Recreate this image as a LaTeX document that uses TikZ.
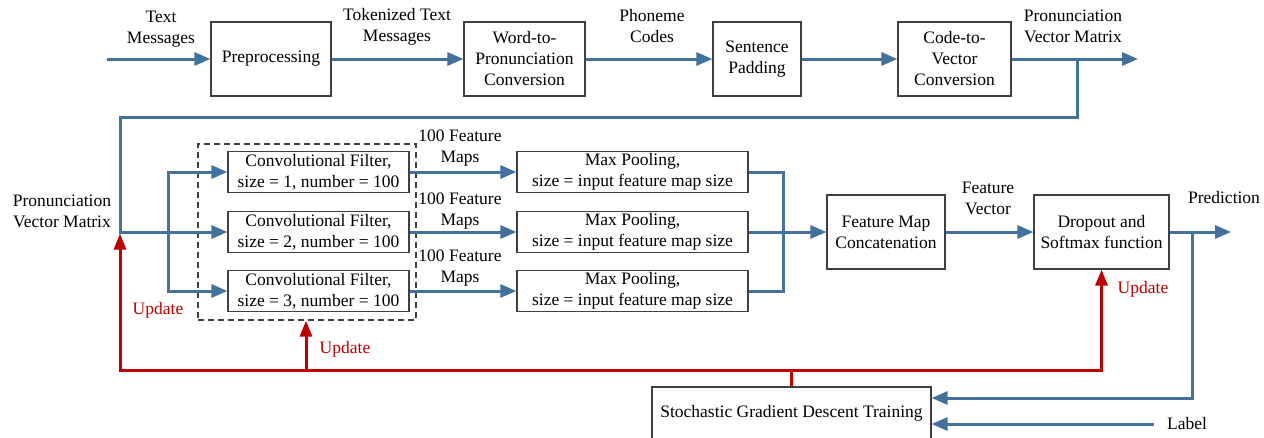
\documentclass[tikz,border=0pt]{standalone}
\usepackage{fontspec}
\setmainfont{Liberation Serif}
\usetikzlibrary{arrows.meta}
\definecolor{flowblue}{HTML}{41719C}
\definecolor{updred}{HTML}{C00000}
\definecolor{boxgrey}{HTML}{404040}
\begin{document}
\begin{tikzpicture}[x=1pt,y=-1pt,
  font=\fontsize{17.5}{21}\selectfont,
  box/.style={draw=boxgrey, line width=1.2pt, fill=white, align=center, inner sep=2pt},
  grpbox/.style={draw=boxgrey, line width=1.2pt, dash pattern=on 6pt off 4pt},
  flow/.style={draw=flowblue, line width=3pt, -{Triangle[length=16pt,width=13pt]}},
  flowline/.style={draw=flowblue, line width=3pt},
  upd/.style={draw=updred, line width=3pt, -{Triangle[length=16pt,width=12pt]}},
  lab/.style={align=center, inner sep=0pt},
  redlab/.style={text=updred, inner sep=0pt}]
\clip (0,0) rectangle (1264,437);

% top row: text to pronunciation vectors
\node[box, minimum width=120pt, minimum height=74pt] (pre) at (271,59) {Preprocessing};
\node[box, minimum width=121pt, minimum height=74pt] (w2p) at (524.5,59) {Word-to-\\Pronunciation\\Conversion};
\node[box, minimum width=88pt, minimum height=74pt] (pad) at (757,59) {Sentence\\Padding};
\node[box, minimum width=113pt, minimum height=74pt] (c2v) at (954.5,59) {Code-to-\\Vector\\Conversion};

\node[lab] (l1) at (161,29) {Text\\Messages};
\node[lab] (l2) at (397,27) {Tokenized Text\\Messages};
\node[lab] (l3) at (652,26.5) {Phoneme\\Codes};
\node[lab] (l4) at (1073,26) {Pronunciation\\Vector Matrix};

\coordinate (in) at (107,59);
\coordinate (out) at (1138,59);
\coordinate (tb) at (1077,59);
\coordinate (lt) at (120,117);

\draw[flow] (in) -- (pre.west);
\draw[flow] (pre.east) -- (w2p.west);
\draw[flow] (w2p.east) -- (pad.west);
\draw[flow] (pad.east) -- (c2v.west);
\draw[flow] (c2v.east) -- (out);

% convolution stage
\node[grpbox, minimum width=218pt, minimum height=176pt] (grp) at (307,232) {};
\node[box, minimum width=181pt, minimum height=41pt] (conv1) at (318.5,172) {Convolutional Filter,\\size = 1, number = 100};
\node[box, minimum width=181pt, minimum height=41pt] (conv2) at (318.5,232) {Convolutional Filter,\\size = 2, number = 100};
\node[box, minimum width=181pt, minimum height=41pt] (conv3) at (318.5,291) {Convolutional Filter,\\size = 3, number = 100};

\node[box, minimum width=231pt, minimum height=41pt] (mp1) at (632.5,172) {Max Pooling,\\size = input feature map size};
\node[box, minimum width=231pt, minimum height=41pt] (mp2) at (632.5,232) {Max Pooling,\\size = input feature map size};
\node[box, minimum width=231pt, minimum height=41pt] (mp3) at (632.5,291) {Max Pooling,\\size = input feature map size};

\node[lab] (f1) at (460,148.5) {100 Feature\\Maps};
\node[lab] (f2) at (460,211) {100 Feature\\Maps};
\node[lab] (f3) at (460,268.5) {100 Feature\\Maps};

\node[box, minimum width=118pt, minimum height=74pt] (cat) at (886,232) {Feature Map\\Concatenation};
\node[box, minimum width=135pt, minimum height=74pt] (drop) at (1101.5,232) {Dropout and\\Softmax function};
\node[lab] (fv) at (988,198) {Feature\\Vector};
\node[lab] (pr) at (1224,198) {Prediction};
\node[lab] (pvm) at (62,211) {Pronunciation\\Vector Matrix};

\node[box, minimum width=279pt, minimum height=52pt] (sgd) at (791.5,413) {Stochastic Gradient Descent Training};
\node[lab] (lbl) at (1187,424) {Label};

\coordinate (jn) at (120,232);
\coordinate (sp) at (168,232);
\coordinate (mg) at (783,232);
\coordinate (pred) at (1231,232);
\coordinate (pb) at (1192,232);
\coordinate (ls) at (1154,424);

\draw[flow] (tb) |- (lt) |- (conv2.west);
\draw[flow] (sp) |- (conv1.west);
\draw[flow] (sp) |- (conv3.west);
\draw[flow] (conv1.east) -- (mp1.west);
\draw[flow] (conv2.east) -- (mp2.west);
\draw[flow] (conv3.east) -- (mp3.west);
\draw[flowline] (mp1.east) -| (mg);
\draw[flowline] (mp3.east) -| (mg);
\draw[flow] (mp2.east) -- (cat.west);
\draw[flow] (cat.east) -- (drop.west);
\draw[flow] (drop.east) -- (pred);
\draw[flow] (pb) |- ([yshift=15pt]sgd.east);
\draw[flow] (ls) -- ([yshift=-11pt]sgd.east);

% parameter updates from training
\coordinate (rl) at (120,370);
\coordinate (rm) at (306,370);
\coordinate (rr) at (1101.5,370);
\draw[upd, shorten >=1.5pt] (sgd.north) |- (rl) -- (jn);
\draw[upd] (sgd.north) |- (rr) -- (drop.south);
\draw[upd] (rm) -- (rm |- grp.south);

\node[redlab] (u1) at (158,310) {Update};
\node[redlab] (u2) at (345,349) {Update};
\node[redlab] (u3) at (1143,289) {Update};
\end{tikzpicture}
\end{document}
